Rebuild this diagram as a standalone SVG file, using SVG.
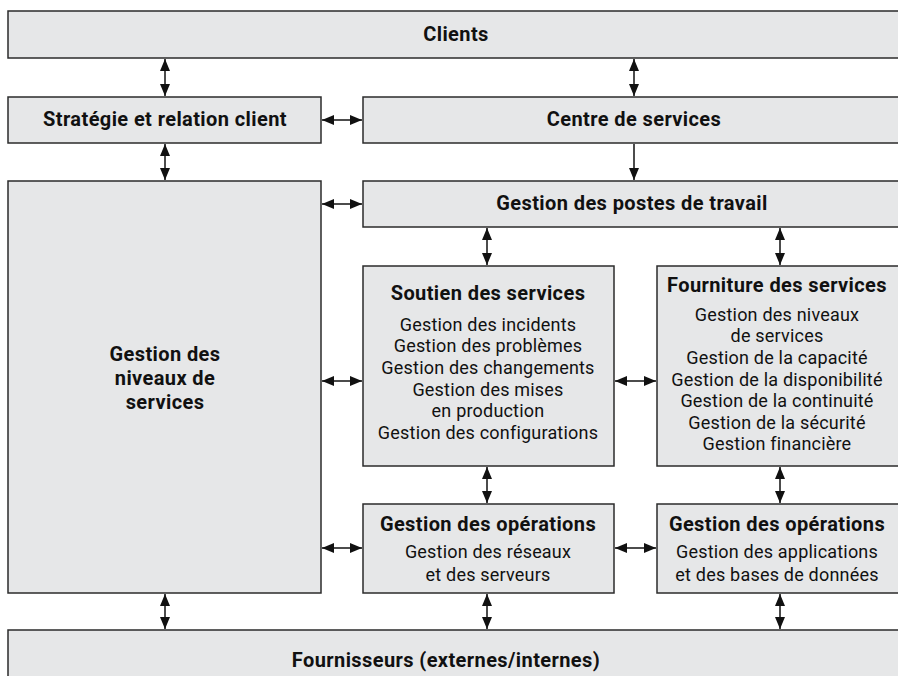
<svg xmlns="http://www.w3.org/2000/svg" width="898" height="676" viewBox="0 0 898 676">
  <defs>
    <marker id="head" viewBox="0 0 12 10" refX="12" refY="5" markerWidth="12" markerHeight="10" markerUnits="userSpaceOnUse" orient="auto-start-reverse">
      <path d="M0,0 L12,5 L0,10 Z" fill="#111"/>
    </marker>
    <style>
      .box { fill: #e6e7e8; stroke: #2b2b2b; stroke-width: 1.5; }
      .title { font-family: Roboto, "Liberation Sans", sans-serif; font-weight: bold; font-size: 20px; letter-spacing: 0.4px; fill: #111; text-anchor: middle; }
      .body { font-family: Roboto, "Liberation Sans", sans-serif; font-size: 18px; letter-spacing: 0.2px; fill: #111; text-anchor: middle; }
      .link { stroke: #111; stroke-width: 1.5; fill: none; }
      .both { marker-start: url(#head); marker-end: url(#head); }
      .one { marker-end: url(#head); }
    </style>
  </defs>
  <rect width="898" height="676" fill="#ffffff"/>

  <g id="clients">
    <rect class="box" x="8" y="11" width="897" height="47"/>
    <text class="title" x="456" y="41">Clients</text>
  </g>

  <g id="strategie">
    <rect class="box" x="8" y="97" width="313" height="46"/>
    <text class="title" x="165" y="126">Stratégie et relation client</text>
  </g>

  <g id="centre-services">
    <rect class="box" x="363" y="97" width="542" height="46"/>
    <text class="title" x="634" y="126">Centre de services</text>
  </g>

  <g id="niveaux-services">
    <rect class="box" x="8" y="181" width="313" height="412"/>
    <text class="title" x="165" y="361">Gestion des</text>
    <text class="title" x="165" y="385">niveaux de</text>
    <text class="title" x="165" y="409">services</text>
  </g>

  <g id="postes-travail">
    <rect class="box" x="363" y="181" width="542" height="46"/>
    <text class="title" x="632" y="210">Gestion des postes de travail</text>
  </g>

  <g id="soutien">
    <rect class="box" x="363" y="266" width="251" height="200"/>
    <text class="title" x="488" y="300">Soutien des services</text>
    <text class="body" x="488" y="331">Gestion des incidents</text>
    <text class="body" x="488" y="352">Gestion des problèmes</text>
    <text class="body" x="488" y="374">Gestion des changements</text>
    <text class="body" x="488" y="396">Gestion des mises</text>
    <text class="body" x="488" y="417">en production</text>
    <text class="body" x="488" y="439">Gestion des configurations</text>
  </g>

  <g id="fourniture">
    <rect class="box" x="657" y="266" width="243" height="200"/>
    <text class="title" x="777" y="292">Fourniture des services</text>
    <text class="body" x="777" y="321">Gestion des niveaux</text>
    <text class="body" x="777" y="342">de services</text>
    <text class="body" x="777" y="364">Gestion de la capacité</text>
    <text class="body" x="777" y="386">Gestion de la disponibilité</text>
    <text class="body" x="777" y="407">Gestion de la continuité</text>
    <text class="body" x="777" y="429">Gestion de la sécurité</text>
    <text class="body" x="777" y="450">Gestion financière</text>
  </g>

  <g id="operations-reseaux">
    <rect class="box" x="363" y="504" width="251" height="89"/>
    <text class="title" x="488" y="531">Gestion des opérations</text>
    <text class="body" x="488" y="558">Gestion des réseaux</text>
    <text class="body" x="488" y="581">et des serveurs</text>
  </g>

  <g id="operations-applications">
    <rect class="box" x="657" y="504" width="243" height="89"/>
    <text class="title" x="777" y="531">Gestion des opérations</text>
    <text class="body" x="777" y="558">Gestion des applications</text>
    <text class="body" x="777" y="581">et des bases de données</text>
  </g>

  <g id="fournisseurs">
    <rect class="box" x="8" y="630" width="897" height="60"/>
    <text class="title" x="446" y="667">Fournisseurs (externes/internes)</text>
  </g>

  <g id="connectors">
    <!-- vertical links -->
    <line class="link both" x1="165" y1="59" x2="165" y2="96"/>
    <line class="link both" x1="634" y1="59" x2="634" y2="96"/>
    <line class="link both" x1="165" y1="144" x2="165" y2="180"/>
    <line class="link one" x1="634" y1="144" x2="634" y2="180"/>
    <line class="link both" x1="487" y1="228" x2="487" y2="265"/>
    <line class="link both" x1="780" y1="228" x2="780" y2="265"/>
    <line class="link both" x1="487" y1="467" x2="487" y2="503"/>
    <line class="link both" x1="780" y1="467" x2="780" y2="503"/>
    <line class="link both" x1="165" y1="594" x2="165" y2="629"/>
    <line class="link both" x1="487" y1="594" x2="487" y2="629"/>
    <line class="link both" x1="780" y1="594" x2="780" y2="629"/>
    <!-- horizontal links -->
    <line class="link both" x1="322" y1="120" x2="362" y2="120"/>
    <line class="link both" x1="322" y1="204" x2="362" y2="204"/>
    <line class="link both" x1="322" y1="381" x2="362" y2="381"/>
    <line class="link both" x1="615" y1="381" x2="656" y2="381"/>
    <line class="link both" x1="322" y1="548" x2="362" y2="548"/>
    <line class="link both" x1="615" y1="548" x2="656" y2="548"/>
  </g>
</svg>
